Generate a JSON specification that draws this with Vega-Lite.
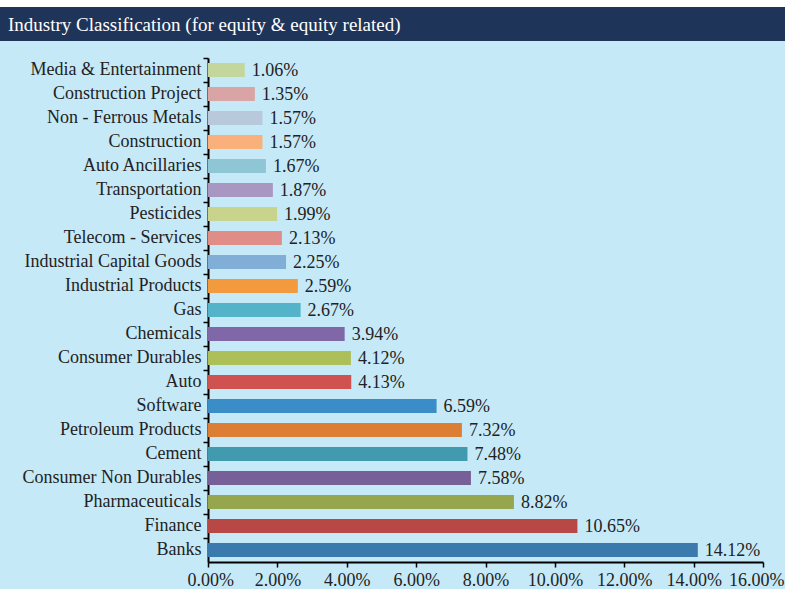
{
  "$schema": "https://vega.github.io/schema/vega-lite/v6.json",
  "background": "#c6e9f8",
  "padding": {"left": 0, "top": 0, "right": 0, "bottom": 0},
  "spacing": 0,
  "columns": 1,
  "config": {"view": {"stroke": null}, "font": "Liberation Serif"},
  "concat": [
    {
      "width": 785,
      "height": 7,
      "view": {"fill": "#ffffff", "stroke": null},
      "data": {"values": [{"blank": " "}]},
      "mark": {"type": "text", "opacity": 0, "fontSize": 1},
      "encoding": {
        "text": {"field": "blank", "type": "nominal"}
      }
    },
    {
      "width": 785,
      "height": 34,
      "view": {"fill": "#1f3459", "stroke": null},
      "data": {"values": [{"title": "Industry Classification (for equity & equity related)"}]},
      "mark": {"type": "text", "align": "left", "baseline": "middle", "dx": 8, "dy": 1, "font": "Liberation Serif", "fontSize": 19, "color": "#ffffff"},
      "encoding": {
        "x": {"datum": 0, "type": "quantitative", "scale": {"domain": [0, 1]}, "axis": null},
        "text": {"field": "title", "type": "nominal"}
      }
    },
    {
      "width": 785,
      "height": 521,
      "data": {"values": [
        {"industry": "Media & Entertainment", "share": 0.0106},
        {"industry": "Construction Project", "share": 0.0135},
        {"industry": "Non - Ferrous Metals", "share": 0.0157},
        {"industry": "Construction", "share": 0.0157},
        {"industry": "Auto Ancillaries", "share": 0.0167},
        {"industry": "Transportation", "share": 0.0187},
        {"industry": "Pesticides", "share": 0.0199},
        {"industry": "Telecom - Services", "share": 0.0213},
        {"industry": "Industrial Capital Goods", "share": 0.0225},
        {"industry": "Industrial Products", "share": 0.0259},
        {"industry": "Gas", "share": 0.0267},
        {"industry": "Chemicals", "share": 0.0394},
        {"industry": "Consumer Durables", "share": 0.0412},
        {"industry": "Auto", "share": 0.0413},
        {"industry": "Software", "share": 0.0659},
        {"industry": "Petroleum Products", "share": 0.0732},
        {"industry": "Cement", "share": 0.0748},
        {"industry": "Consumer Non Durables", "share": 0.0758},
        {"industry": "Pharmaceuticals", "share": 0.0882},
        {"industry": "Finance", "share": 0.1065},
        {"industry": "Banks", "share": 0.1412}
      ]},
      "encoding": {
        "y": {
          "field": "industry", "type": "nominal", "sort": null,
          "scale": {"paddingInner": 0, "paddingOuter": 0, "range": [17, 521]},
          "axis": {
            "title": null, "bandPosition": 0, "offset": -208, "domainColor": "#000000", "domainWidth": 2,
            "tickColor": "#000000", "tickWidth": 1.5, "tickSize": 5, "labelPadding": 2,
            "labelFont": "Liberation Serif", "labelFontSize": 18, "labelColor": "#222222",
            "labelLimit": 300
          }
        },
        "x": {
          "field": "share", "type": "quantitative",
          "scale": {"domain": [0, 0.16], "nice": false, "range": [208, 763]},
          "axis": {
            "title": null, "values": [0, 0.02, 0.04, 0.06, 0.08, 0.1, 0.12, 0.14, 0.16],
            "format": ".2%", "grid": false, "domainColor": "#000000", "domainWidth": 2,
            "tickColor": "#000000", "tickWidth": 1.5, "tickSize": 5, "labelPadding": 4,
            "labelFont": "Liberation Serif", "labelFontSize": 18, "labelColor": "#222222",
            "labelFlush": true, "labelFlushOffset": 21
          }
        }
      },
      "layer": [
        {
          "mark": {"type": "bar", "height": {"band": 0.58}},
          "encoding": {
            "color": {
              "field": "industry", "type": "nominal", "legend": null,
              "scale": {
                "domain": ["Media & Entertainment", "Construction Project", "Non - Ferrous Metals", "Construction", "Auto Ancillaries", "Transportation", "Pesticides", "Telecom - Services", "Industrial Capital Goods", "Industrial Products", "Gas", "Chemicals", "Consumer Durables", "Auto", "Software", "Petroleum Products", "Cement", "Consumer Non Durables", "Pharmaceuticals", "Finance", "Banks"],
                "range": ["#c3d69b", "#d9a5a4", "#b9c9dc", "#f9b07a", "#8ec6d6", "#a897c0", "#c8d48c", "#e08d87", "#80aed6", "#f39a3f", "#53b3c8", "#8068a8", "#adbf58", "#cf5250", "#3a8dc6", "#dc7f35", "#429aaf", "#775f98", "#96a64f", "#b84845", "#3b7aad"]
              }
            }
          }
        },
        {
          "mark": {"type": "text", "align": "left", "baseline": "middle", "dx": 7, "dy": 1, "font": "Liberation Serif", "fontSize": 18, "color": "#222222"},
          "encoding": {
            "text": {"field": "share", "type": "quantitative", "format": ".2%"}
          }
        }
      ]
    }
  ]
}
